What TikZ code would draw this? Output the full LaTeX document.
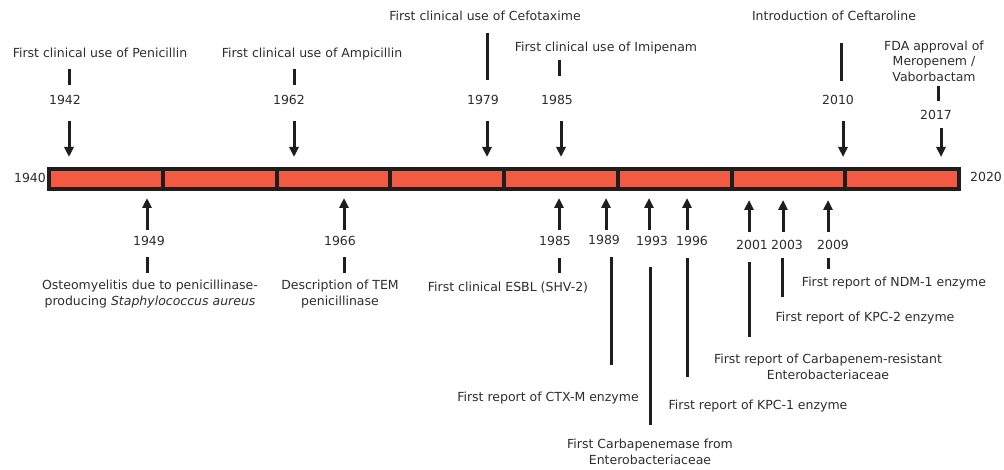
\documentclass[tikz,border=0pt]{standalone}
\usepackage{fontspec}
\setmainfont{DejaVu Sans}
\usetikzlibrary{arrows.meta}
\definecolor{barred}{RGB}{242,90,68}
\definecolor{ink}{RGB}{30,30,30}
\definecolor{txt}{RGB}{45,45,45}
\begin{document}
\begin{tikzpicture}[x=1pt,y=-1pt,
  lbl/.style={inner sep=0pt,text=txt,font=\fontsize{12.5}{15.5}\selectfont,align=center},
  tick/.style={draw=ink,line width=3pt},
  arr/.style={draw=ink,line width=3pt,-{Triangle[width=9pt,length=10pt]}},
  barbox/.style={draw=ink,line width=3.2pt,fill=barred}]
\useasboundingbox (0,0) rectangle (1004,470);
% bar
\draw[barbox] (49,169) rectangle (959,189);
\foreach \x in {163,277,390,504,618,732,845}{\draw[ink,line width=3.2pt] (\x,169) -- (\x,189);}
\node[lbl] (y1940) at (30,178) {1940};
\node[lbl] (y2020) at (986,177) {2020};
% ---- top events ----
\node[lbl] (l42) at (100,53) {First clinical use of Penicillin};
\node[lbl] (l62) at (312,54) {First clinical use of Ampicillin};
\node[lbl] (l79) at (485,16) {First clinical use of Cefotaxime};
\node[lbl] (l85) at (606,48) {First clinical use of Imipenam};
\node[lbl] (l10) at (834,16) {Introduction of Ceftaroline};
\node[lbl] (l17) at (934,61) {FDA approval of\\Meropenem /\\Vaborbactam};
\node[lbl] (y42) at (65,100) {1942};
\node[lbl] (y62) at (289,100) {1962};
\node[lbl] (y79) at (483,100) {1979};
\node[lbl] (y85) at (557,100) {1985};
\node[lbl] (y10) at (838,100) {2010};
\node[lbl] (y17) at (936,115) {2017};
% top ticks
\coordinate (a42) at (69,69);  \coordinate (b42) at (69,85);
\coordinate (a62) at (294,69); \coordinate (b62) at (294,85);
\coordinate (a79) at (487,33); \coordinate (b79) at (487,80);
\coordinate (a85) at (559,60); \coordinate (b85) at (559,76);
\coordinate (a10) at (841,43); \coordinate (b10) at (841,81);
\coordinate (a17) at (938,86); \coordinate (b17) at (938,101);
\foreach \k in {42,62,79,85,10,17}{\draw[tick] (a\k) -- (b\k);}
% top arrows
\coordinate (c42) at (69,121);  \coordinate (d42) at (69,157);
\coordinate (c62) at (294,121); \coordinate (d62) at (294,157);
\coordinate (c79) at (487,121); \coordinate (d79) at (487,157);
\coordinate (c85) at (561,121); \coordinate (d85) at (561,157);
\coordinate (c10) at (843,121); \coordinate (d10) at (843,157);
\coordinate (c17) at (941,128); \coordinate (d17) at (941,157);
\foreach \k in {42,62,79,85,10,17}{\draw[arr] (c\k) -- (d\k);}
% ---- bottom events ----
\coordinate (e49) at (147,230); \coordinate (f49) at (147,198);
\coordinate (e66) at (344,230); \coordinate (f66) at (344,198);
\coordinate (e85) at (559,230); \coordinate (f85) at (559,198);
\coordinate (e89) at (606,230); \coordinate (f89) at (606,198);
\coordinate (e93) at (649,230); \coordinate (f93) at (649,198);
\coordinate (e96) at (687,230); \coordinate (f96) at (687,198);
\coordinate (e01) at (749,232); \coordinate (f01) at (749,200);
\coordinate (e03) at (783,232); \coordinate (f03) at (783,200);
\coordinate (e09) at (828,232); \coordinate (f09) at (828,200);
\foreach \k in {49,66,85,89,93,96,01,03,09}{\draw[arr] (e\k) -- (f\k);}
\node[lbl] (y49) at (149,241) {1949};
\node[lbl] (y66) at (340,241) {1966};
\node[lbl] (y85b) at (555,241) {1985};
\node[lbl] (y89) at (604,240) {1989};
\node[lbl] (y93) at (652,241) {1993};
\node[lbl] (y96) at (692,241) {1996};
\node[lbl] (y01) at (752,245) {2001};
\node[lbl] (y03) at (787,245) {2003};
\node[lbl] (y09) at (833,245) {2009};
% bottom lines
\coordinate (g49) at (147,257); \coordinate (h49) at (147,273);
\coordinate (g66) at (344,257); \coordinate (h66) at (344,273);
\coordinate (g85) at (559,258); \coordinate (h85) at (559,273);
\coordinate (g89) at (611,257); \coordinate (h89) at (611,365);
\coordinate (g93) at (650,267); \coordinate (h93) at (650,425);
\coordinate (g96) at (687,258); \coordinate (h96) at (687,377);
\coordinate (g01) at (749,262); \coordinate (h01) at (749,337);
\coordinate (g03) at (782,258); \coordinate (h03) at (782,297);
\coordinate (g09) at (828,258); \coordinate (h09) at (828,269);
\foreach \k in {49,66,85,89,93,96,01,03,09}{\draw[tick] (g\k) -- (h\k);}
% bottom labels
\node[lbl] (l49) at (150,294) {Osteomyelitis due to penicillinase-\\producing \textit{Staphylococcus aureus}};
\node[lbl] (l66) at (340,294) {Description of TEM\\penicillinase};
\node[lbl] (l85b) at (508,288) {First clinical ESBL (SHV-2)};
\node[lbl] (l89) at (548,398) {First report of CTX-M enzyme};
\node[lbl] (l93) at (650,452) {First Carbapenemase from\\Enterobacteriaceae};
\node[lbl] (l96) at (758,406) {First report of KPC-1 enzyme};
\node[lbl] (l01) at (828,367) {First report of Carbapenem-resistant\\Enterobacteriaceae};
\node[lbl] (l03) at (865,318) {First report of KPC-2 enzyme};
\node[lbl] (l09) at (894,283) {First report of NDM-1 enzyme};
\end{tikzpicture}
\end{document}
